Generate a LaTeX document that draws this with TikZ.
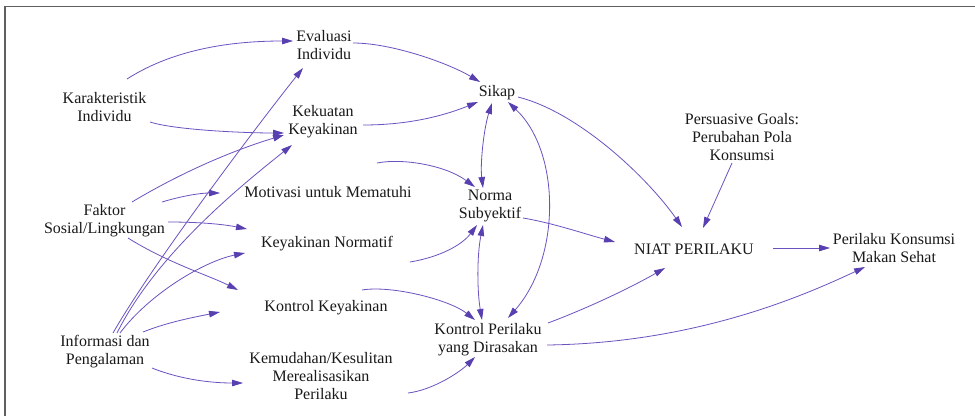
\documentclass[tikz,border=0pt]{standalone}
\usepackage{fontspec}
\setmainfont{Liberation Serif}
\newfontfamily\diagfont{Liberation Serif}
\usetikzlibrary{arrows.meta}
\definecolor{arrowcol}{RGB}{108,82,192}
\definecolor{tipcol}{RGB}{88,64,176}
\definecolor{framecol}{RGB}{95,95,95}
\definecolor{txtcol}{RGB}{25,25,25}
\tikzset{
  lbl/.style={align=center, inner sep=0pt, text=txtcol,
    font=\diagfont\fontsize{16pt}{18pt}\selectfont},
  arr/.style={draw=arrowcol, line width=0.8pt,
    -{Triangle[length=11pt,width=6.5pt,color=tipcol]}},
  darr/.style={draw=arrowcol, line width=0.8pt,
    {Triangle[length=11pt,width=6.5pt,color=tipcol]}-{Triangle[length=11pt,width=6.5pt,color=tipcol]}}
}
\begin{document}
\begin{tikzpicture}[x=1pt,y=-1pt]
\useasboundingbox (0,0) rectangle (975,416);
\fill[white] (0,0) rectangle (975,416);
% frame
\draw[framecol, line width=1.8pt] (5,6.5) -- (975,6.5);
\draw[framecol, line width=1.5pt] (5,6) -- (5,416);

% nodes
\node[lbl] (kar) at (104.5,107) {Karakteristik\\Individu};
\node[lbl] (fak) at (104.5,221) {Faktor\\Sosial/Lingkungan};
\node[lbl] (inf) at (105,352) {Informasi dan\\Pengalaman};
\node[lbl] (eva) at (324,45) {Evaluasi\\Individu};
\node[lbl] (kek) at (323,122) {Kekuatan\\Keyakinan};
\node[lbl] (mot) at (328,192) {Motivasi untuk Mematuhi};
\node[lbl] (kno) at (327,244) {Keyakinan Normatif};
\node[lbl] (kky) at (326,308) {Kontrol Keyakinan};
\node[lbl] (kem) at (321,376) {Kemudahan/Kesulitan\\Merealisasikan\\Perilaku};
\node[lbl] (sik) at (497,93) {Sikap};
\node[lbl] (nor) at (490,206) {Norma\\Subyektif};
\node[lbl] (kpd) at (488,340) {Kontrol Perilaku\\yang Dirasakan};
\node[lbl] (nia) at (694,249) {NIAT PERILAKU};
\node[lbl] (per) at (742,137) {Persuasive Goals:\\Perubahan Pola\\Konsumsi};
\node[lbl] (pks) at (894,248) {Perilaku Konsumsi\\Makan Sehat};

% Karakteristik Individu
\draw[arr] ([shift={(22.5,-28)}]kar.center) .. controls +(50,-32) and +(-55,0) .. ([shift={(-31,-4)}]eva.center);
\draw[arr] ([shift={(45.5,15)}]kar.center) .. controls +(25,8) and +(-40,0) .. ([shift={(-39,11)}]kek.center);

% Faktor Sosial/Lingkungan
\draw[arr] ([shift={(27.5,-19)}]fak.center) .. controls +(50,-30) and +(-50,15) .. ([shift={(-39,13)}]kek.center);
\draw[arr] ([shift={(57.5,-19)}]fak.center) .. controls +(20,-6) and +(-20,0) .. ([shift={(-108,1)}]mot.center);
\draw[arr] ([shift={(63.5,1)}]fak.center) .. controls +(30,0) and +(-25,-5) .. ([shift={(-80,-15)}]kno.center);
\draw[arr] ([shift={(23.5,17)}]fak.center) .. controls +(40,25) and +(-30,-15) .. ([shift={(-88,-18)}]kky.center);

% Informasi dan Pengalaman
\draw[arr] ([shift={(8,-19)}]inf.center) .. controls +(40,-70) and +(-40,50) .. ([shift={(-21,23)}]eva.center);
\draw[arr] ([shift={(12,-19)}]inf.center) .. controls +(40,-80) and +(-50,40) .. ([shift={(-31,23)}]kek.center);
\draw[arr] ([shift={(15,-19)}]inf.center) .. controls +(30,-40) and +(-40,8) .. ([shift={(-82,9)}]kno.center);
\draw[arr] ([shift={(38,-20)}]inf.center) .. controls +(25,-10) and +(-25,5) .. ([shift={(-106,4)}]kky.center);
\draw[arr] ([shift={(47,16)}]inf.center) .. controls +(30,12) and +(-30,0) .. ([shift={(-78,7)}]kem.center);

% towards Sikap, Norma, Kontrol Perilaku
\draw[arr] ([shift={(29,-2)}]eva.center) .. controls +(40,0) and +(-30,-18) .. ([shift={(-17,-11)}]sik.center);
\draw[arr] ([shift={(40,3)}]kek.center) .. controls +(50,0) and +(-30,12) .. ([shift={(-19,9)}]sik.center);
\draw[arr] ([shift={(49,-29)}]mot.center) .. controls +(25,-5) and +(-30,-22) .. ([shift={(-15,-19)}]nor.center);
\draw[arr] ([shift={(83,18)}]kno.center) .. controls +(30,-5) and +(-15,20) .. ([shift={(-13,19)}]nor.center);
\draw[arr] ([shift={(36,-18)}]kky.center) .. controls +(30,-5) and +(-25,-20) .. ([shift={(-13,-20)}]kpd.center);
\draw[arr] ([shift={(87,17)}]kem.center) .. controls +(25,-3) and +(-15,15) .. ([shift={(-13,17)}]kpd.center);

% mutual links
\draw[darr] ([shift={(-5,10)}]sik.center) .. controls +(-8,25) and +(-3,-25) .. ([shift={(-7,-18)}]nor.center);
\draw[darr] ([shift={(11,9)}]sik.center) .. controls +(53,50) and +(53,-60) .. ([shift={(20,-22)}]kpd.center);
\draw[darr] ([shift={(-7,19)}]nor.center) .. controls +(-6,30) and +(-5,-30) .. ([shift={(-6,-20)}]kpd.center);

% towards Niat Perilaku
\draw[arr] ([shift={(21,4)}]sik.center) .. controls +(60,15) and +(-35,-50) .. ([shift={(-12,-22)}]nia.center);
\draw[arr] ([shift={(33,12)}]nor.center) .. controls +(30,5) and +(-30,-8) .. ([shift={(-79,-7)}]nia.center);
\draw[arr] ([shift={(60,-17)}]kpd.center) .. controls +(40,-15) and +(-35,20) .. ([shift={(-29,19)}]nia.center);
\draw[arr] ([shift={(-10,26)}]per.center) -- ([shift={(9,-21)}]nia.center);

% towards Perilaku Konsumsi
\draw[arr] ([shift={(79,-1)}]nia.center) -- ([shift={(-64,0)}]pks.center);
\draw[arr] ([shift={(59,5)}]kpd.center) .. controls +(150,-2) and +(-60,28) .. ([shift={(-29,19)}]pks.center);
\end{tikzpicture}
\end{document}
